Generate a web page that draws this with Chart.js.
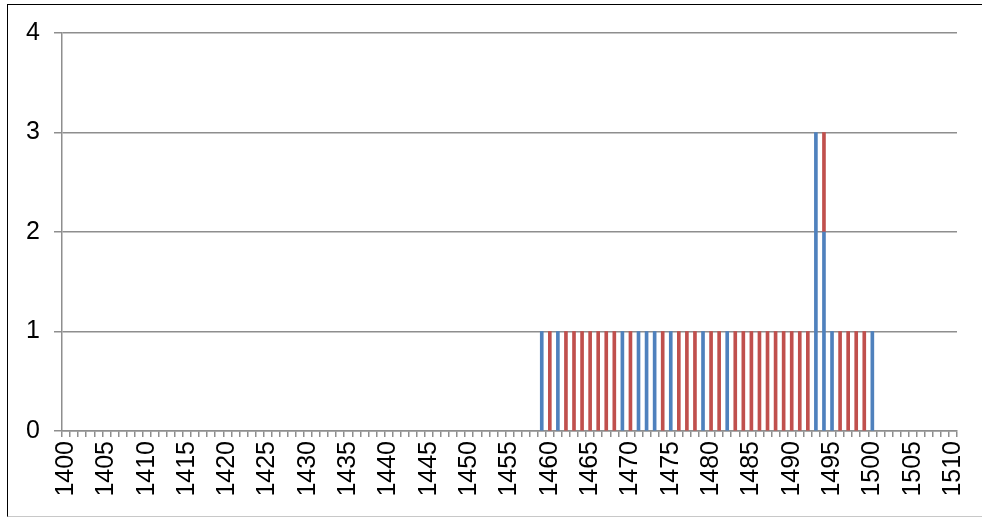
<!DOCTYPE html>
<html>
<head>
<meta charset="utf-8">
<script src="https://cdn.jsdelivr.net/npm/chart.js@4"></script>
<style>
	html, body { margin: 0; padding: 0; background: #fff; overflow: hidden; }
	#wrap { position: relative; width: 982px; height: 518px; }
	#frame {
		position: absolute; left: 7px; top: 4px; width: 1000px; height: 511px;
		border-left: 1.5px solid #000; border-top: 1.5px solid #000;
		border-bottom: 1px solid #c8c8c8; pointer-events: none;
	}
</style>
</head>
<body>
<div id="wrap">
	<canvas id="chart"></canvas>
	<div id="frame"></div>
</div>
<script>
// categories: one per year
const years = [
	1400, 1401, 1402, 1403, 1404, 1405, 1406, 1407, 1408, 1409,
	1410, 1411, 1412, 1413, 1414, 1415, 1416, 1417, 1418, 1419,
	1420, 1421, 1422, 1423, 1424, 1425, 1426, 1427, 1428, 1429,
	1430, 1431, 1432, 1433, 1434, 1435, 1436, 1437, 1438, 1439,
	1440, 1441, 1442, 1443, 1444, 1445, 1446, 1447, 1448, 1449,
	1450, 1451, 1452, 1453, 1454, 1455, 1456, 1457, 1458, 1459,
	1460, 1461, 1462, 1463, 1464, 1465, 1466, 1467, 1468, 1469,
	1470, 1471, 1472, 1473, 1474, 1475, 1476, 1477, 1478, 1479,
	1480, 1481, 1482, 1483, 1484, 1485, 1486, 1487, 1488, 1489,
	1490, 1491, 1492, 1493, 1494, 1495, 1496, 1497, 1498, 1499,
	1500, 1501, 1502, 1503, 1504, 1505, 1506, 1507, 1508, 1509,
	1510,
];

// blue series
const blueYears = [1459, 1461, 1469, 1471, 1472, 1473, 1475, 1479, 1482, 1493, 1494, 1495, 1500];
const blueCounts = [1, 1, 1, 1, 1, 1, 1, 1, 1, 3, 2, 1, 1];

// red series
const redYears = [
	1460, 1462, 1463, 1464, 1465, 1466, 1467, 1468, 1470, 1474,
	1476, 1477, 1478, 1480, 1481, 1483, 1484, 1485, 1486, 1487,
	1488, 1489, 1490, 1491, 1492, 1494, 1496, 1497, 1498, 1499,
];
const redCounts = [
	1, 1, 1, 1, 1, 1, 1, 1, 1, 1,
	1, 1, 1, 1, 1, 1, 1, 1, 1, 1,
	1, 1, 1, 1, 1, 1, 1, 1, 1, 1,
];

const yTicks = [0, 1, 2, 3, 4];

function toSeries(ys, vals) {
	return years.map(function (y) {
		const i = ys.indexOf(y);
		return i >= 0 ? vals[i] : null;
	});
}

const gridGray = '#8e8e8e';
const font = { family: '"Liberation Sans", Arial, sans-serif', size: 25 };

const config = {
	type: 'bar',
	data: {
		labels: years,
		datasets: [
			{
				data: toSeries(blueYears, blueCounts),
				backgroundColor: '#4f81bd',
				barThickness: 3,
			},
			{
				data: toSeries(redYears, redCounts),
				backgroundColor: '#c0504d',
				barThickness: 3,
			},
		],
	},
	options: {
		responsive: true,
		maintainAspectRatio: false,
		animation: false,
		layout: { padding: { left: 10, top: 33, right: 25, bottom: 0 } },
		plugins: {
			legend: { display: false },
			tooltip: { enabled: false },
		},
		scales: {
			x: {
				stacked: true,
				offset: true,
				grid: {
					display: true,
					offset: true,
					drawOnChartArea: false,
					drawTicks: true,
					tickLength: 6,
					color: gridGray,
					lineWidth: 1.5,
				},
				border: { display: true, color: gridGray, width: 1.5 },
				ticks: {
					autoSkip: false,
					maxRotation: 90,
					minRotation: 90,
					padding: 4,
					color: '#000',
					font: font,
					callback: function (v, i) {
						return years[i] % 5 === 0 ? String(years[i]) : '';
					},
				},
				afterFit: function (s) {
					s.height = 87;
					s.paddingLeft = 0;
					s.paddingRight = 0;
				},
			},
			y: {
				stacked: true,
				min: 0,
				max: 4,
				afterBuildTicks: function (s) {
					s.ticks = yTicks.map(function (v) { return { value: v }; });
				},
				grid: {
					color: gridGray,
					lineWidth: 1.5,
					tickLength: 8,
				},
				border: { display: true, color: gridGray, width: 1.5 },
				ticks: {
					padding: 14,
					color: '#000',
					font: font,
				},
				afterFit: function (s) { s.width = 52; },
			},
		},
	},
};

const chartCanvas = document.getElementById('chart');
new Chart(chartCanvas, config);
</script>
</body>
</html>
